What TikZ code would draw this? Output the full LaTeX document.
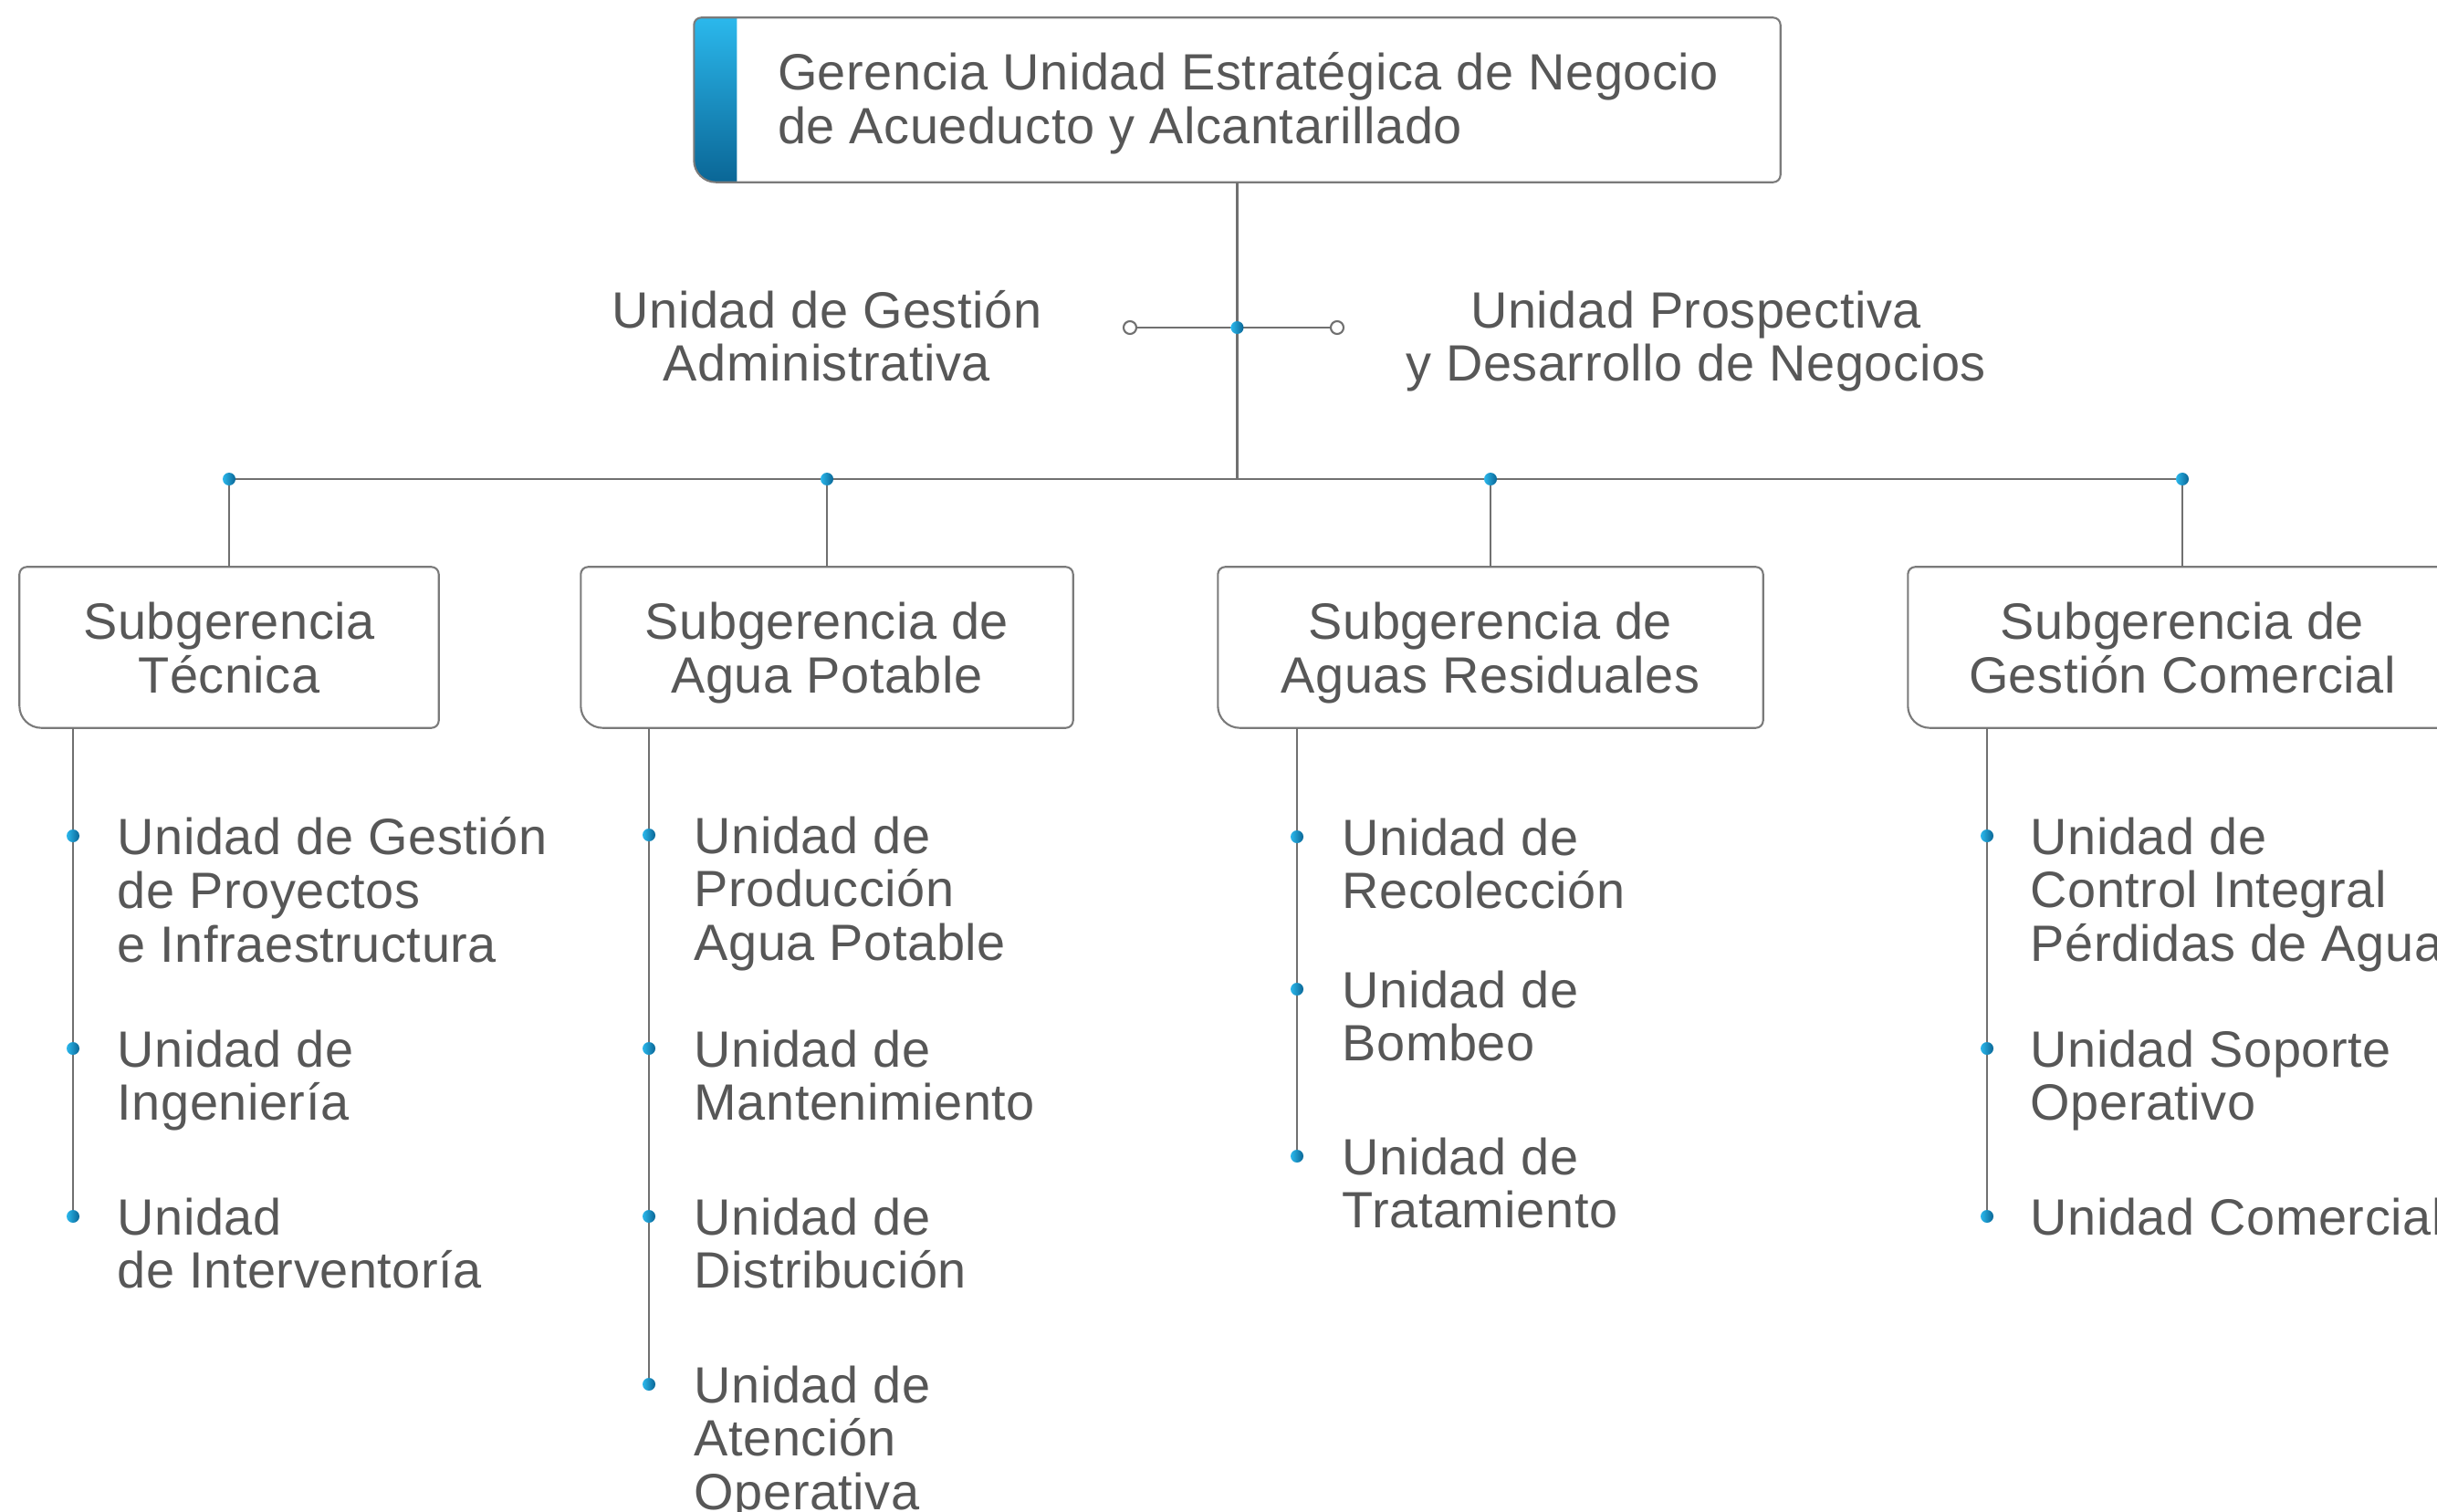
\documentclass[tikz,border=0pt]{standalone}
\usepackage{fontspec}
\setmainfont[LetterSpace=1]{Liberation Sans}
\usetikzlibrary{calc,positioning}

\definecolor{txtgray}{HTML}{575757}
\definecolor{linegray}{HTML}{707070}
\definecolor{framegray}{HTML}{7A7A7A}
\definecolor{aqualight}{HTML}{2BB8EC}
\definecolor{aquadark}{HTML}{0A6696}

\tikzset{
  link/.style={draw=linegray, line width=0.6pt},
  frame/.style={draw=framegray, line width=0.6pt},
  orgtext/.style={text=txtgray, font=\fontsize{15.9}{16.7}\selectfont, inner sep=0pt},
  unitbox/.style={orgtext, align=center, text depth=0pt, minimum height=1.75cm},
  itemtext/.style={orgtext, align=left, anchor=north west},
}

% blue dot and open dot
\newcommand{\bluedot}[1]{\shade[left color=aqualight, right color=aquadark] (#1) circle (0.07);}
\newcommand{\opendot}[1]{\draw[link, fill=white] (#1) circle (0.07);}
% box outline, big round corner bottom left
\newcommand{\unitframe}[1]{%
  \draw[frame] ($(#1.north west)+(0.08,0)$) -- ($(#1.north east)-(0.08,0)$)
    arc[start angle=90, end angle=0, radius=0.08]
    -- ($(#1.south east)+(0,0.08)$)
    arc[start angle=0, end angle=-90, radius=0.08]
    -- ($(#1.south west)+(0.24,0)$)
    arc[start angle=270, end angle=180, radius=0.24]
    -- ($(#1.north west)-(0,0.08)$)
    arc[start angle=180, end angle=90, radius=0.08]
    -- cycle;}

\begin{document}
\begin{tikzpicture}

\clip (0,0) rectangle (26.70,-16.57);
\fill[white] (0,0) rectangle (26.70,-16.57);

% Top box
\node[minimum width=11.89cm, minimum height=1.79cm, inner sep=0pt] (ger) at (13.555,-1.095) {};
\shade[top color=aqualight, bottom color=aquadark]
  ($(ger.north west)+(0.08,0)$) -- ($(ger.north west)+(0.47,0)$)
  -- ($(ger.south west)+(0.47,0)$) -- ($(ger.south west)+(0.24,0)$)
  arc[start angle=270, end angle=180, radius=0.24]
  -- ($(ger.north west)-(0,0.08)$)
  arc[start angle=180, end angle=90, radius=0.08] -- cycle;
\unitframe{ger}
\node[orgtext, align=left, anchor=west] (gertext) at ($(ger.west)+(0.91,-0.04)$)
  {Gerencia Unidad Estratégica de Negocio\\de Acueducto y Alcantarillado};

% Staff units
\coordinate (hub) at (13.555,-3.59);
\coordinate (adm) at (12.38,-3.59);
\coordinate (pros) at (14.65,-3.59);
\node[orgtext, align=center, anchor=base] (ugadm) at (9.06,-4.18) {Unidad de Gestión\\Administrativa};
\node[orgtext, align=center, anchor=base] (uprosp) at (18.58,-4.18) {Unidad Prospectiva\\y Desarrollo de Negocios};

% Subgerencias
\node[unitbox, minimum width=4.58cm] (sgtec) at (2.51,-7.095) {Subgerencia\\Técnica};
\node[unitbox, minimum width=5.38cm] (sgagua) at (9.06,-7.095) {Subgerencia de\\Agua Potable};
\node[unitbox, minimum width=5.96cm] (sgres) at (16.33,-7.095) {Subgerencia de\\Aguas Residuales};
\node[unitbox, minimum width=6.00cm] (sgcom) at (23.91,-7.095) {Subgerencia de\\Gestión Comercial};
\foreach \n in {sgtec,sgagua,sgres,sgcom} {\unitframe{\n}}

% Main lines
\coordinate (bus) at (13.555,-5.25);
\draw[link] (ger.south) -- (bus);
\draw[link] (adm) -- (pros);
\draw[link] (sgtec.north |- bus) -- (sgcom.north |- bus);
\foreach \n in {sgtec,sgagua,sgres,sgcom} {
  \draw[link] (\n.north |- bus) -- (\n.north);
  \bluedot{\n.north |- bus}
}
\opendot{adm}
\opendot{pros}
\bluedot{hub}

% Units of Subgerencia Tecnica
\coordinate (t1) at (0.80,-9.16);
\coordinate (t2) at (0.80,-11.49);
\coordinate (t3) at (0.80,-13.33);
\draw[link] (sgtec.south -| t1) -- (t3);
\foreach \p in {t1,t2,t3} {\bluedot{\p}}
\node[itemtext] (ugpi) at ($(t1)+(0.48,0.21)$) {Unidad de Gestión\\de Proyectos\\e Infraestructura};
\node[itemtext] (uing) at ($(t2)+(0.48,0.21)$) {Unidad de\\Ingeniería};
\node[itemtext] (uint) at ($(t3)+(0.48,0.21)$) {Unidad\\de Interventoría};

% Units of Subgerencia de Agua Potable
\coordinate (a1) at (7.11,-9.15);
\coordinate (a2) at (7.11,-11.49);
\coordinate (a3) at (7.11,-13.33);
\coordinate (a4) at (7.11,-15.17);
\draw[link] (sgagua.south -| a1) -- (a4);
\foreach \p in {a1,a2,a3,a4} {\bluedot{\p}}
\node[itemtext] (uprod) at ($(a1)+(0.49,0.21)$) {Unidad de\\Producción\\Agua Potable};
\node[itemtext] (umant) at ($(a2)+(0.49,0.21)$) {Unidad de\\Mantenimiento};
\node[itemtext] (udist) at ($(a3)+(0.49,0.21)$) {Unidad de\\Distribución};
\node[itemtext] (uaten) at ($(a4)+(0.49,0.21)$) {Unidad de\\Atención\\Operativa};

% Units of Subgerencia de Aguas Residuales
\coordinate (r1) at (14.21,-9.17);
\coordinate (r2) at (14.21,-10.84);
\coordinate (r3) at (14.21,-12.67);
\draw[link] (sgres.south -| r1) -- (r3);
\foreach \p in {r1,r2,r3} {\bluedot{\p}}
\node[itemtext] (urec) at ($(r1)+(0.49,0.21)$) {Unidad de\\Recolección};
\node[itemtext] (ubomb) at ($(r2)+(0.49,0.21)$) {Unidad de\\Bombeo};
\node[itemtext] (utrat) at ($(r3)+(0.49,0.21)$) {Unidad de\\Tratamiento};

% Units of Subgerencia de Gestion Comercial
\coordinate (c1) at (21.77,-9.16);
\coordinate (c2) at (21.77,-11.49);
\coordinate (c3) at (21.77,-13.33);
\draw[link] (sgcom.south -| c1) -- (c3);
\foreach \p in {c1,c2,c3} {\bluedot{\p}}
\node[itemtext] (ucip) at ($(c1)+(0.47,0.21)$) {Unidad de\\Control Integral\\Pérdidas de Agua};
\node[itemtext] (usop) at ($(c2)+(0.47,0.21)$) {Unidad Soporte\\Operativo};
\node[itemtext] (ucom) at ($(c3)+(0.47,0.21)$) {Unidad Comercial};

\end{tikzpicture}
\end{document}
